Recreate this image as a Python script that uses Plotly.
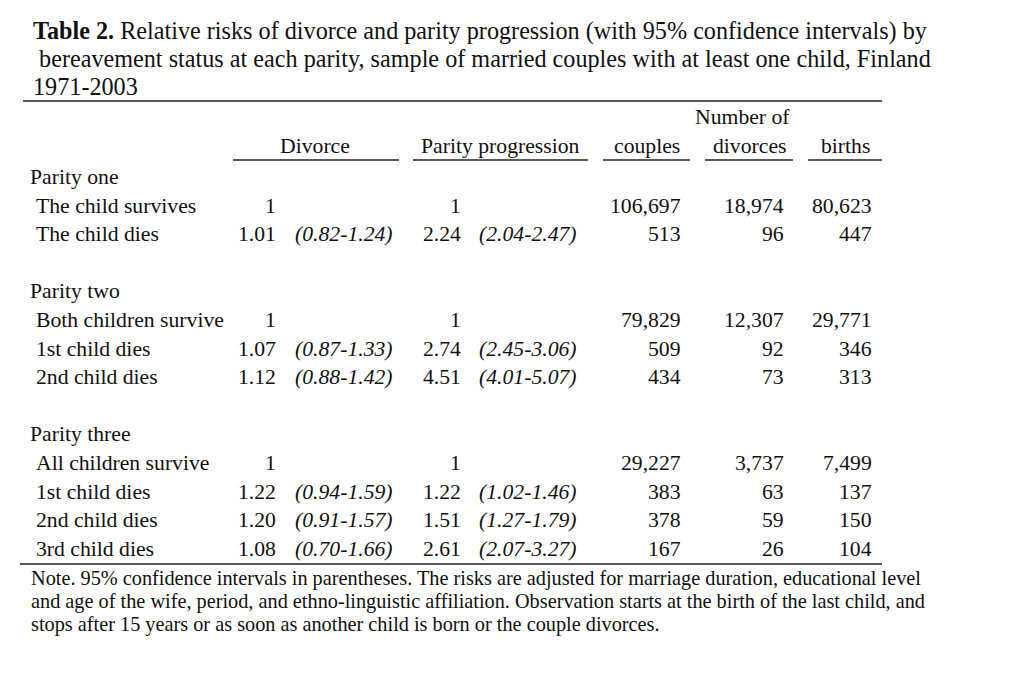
import plotly.graph_objects as go

# ---------------- data ----------------
title_lines = [
    "<b>Table 2.</b> Relative risks of divorce and parity progression (with 95% confidence intervals) by",
    " bereavement status at each parity, sample of married couples with at least one child, Finland",
    "1971-2003",
]
col_headers = ["Divorce", "Parity progression", "couples", "divorces", "births"]
super_header = "Number of"

groups = ["Parity one", "Parity two", "Parity three"]
statuses = [
    ["The child survives", "The child dies"],
    ["Both children survive", "1st child dies", "2nd child dies"],
    ["All children survive", "1st child dies", "2nd child dies", "3rd child dies"],
]
divorce_rr = ["1", "1.01", "1", "1.07", "1.12", "1", "1.22", "1.20", "1.08"]
divorce_ci = ["", "(0.82-1.24)", "", "(0.87-1.33)", "(0.88-1.42)", "", "(0.94-1.59)", "(0.91-1.57)", "(0.70-1.66)"]
parity_rr = ["1", "2.24", "1", "2.74", "4.51", "1", "1.22", "1.51", "2.61"]
parity_ci = ["", "(2.04-2.47)", "", "(2.45-3.06)", "(4.01-5.07)", "", "(1.02-1.46)", "(1.27-1.79)", "(2.07-3.27)"]
couples = [106697, 513, 79829, 509, 434, 29227, 383, 378, 167]
divorces = [18974, 96, 12307, 92, 73, 3737, 63, 59, 26]
births = [80623, 447, 29771, 346, 313, 7499, 137, 150, 104]

note_lines = [
    "Note. 95% confidence intervals in parentheses. The risks are adjusted for marriage duration, educational level",
    "and age of the wife, period, and ethno-linguistic affiliation. Observation starts at the birth of the last child, and",
    "stops after 15 years or as soon as another child is born or the couple divorces.",
]

# ---------------- layout ----------------
FONT = "Liberation Serif, Times New Roman, serif"
INK = "#111111"
FS = 21.7
TITLE_FS = 24.2
NOTE_FS = 20.3
OFF = 8  # page body margin

fig = go.Figure()
ann = []
shapes = []


def text(x, y, s, anchor="left", size=FS, italic=False):
    ann.append(dict(x=x, y=y, xref="x", yref="y", text=(f"<i>{s}</i>" if italic else s),
                    showarrow=False, xanchor=anchor, yanchor="middle",
                    font=dict(family=FONT, size=size, color=INK)))


def hline(x0, x1, y, w=1.4):
    shapes.append(dict(type="line", xref="x", yref="y", x0=x0, x1=x1, y0=y, y1=y,
                       line=dict(color="#222222", width=w)))


# title
for i, t in enumerate(title_lines):
    text(31, 31 + 27.7 * i, t, size=TITLE_FS)

hline(23, 882, 101)

# headers
text(742, 117, super_header, anchor="center")
hdr_cx = [315, 500, 647, 749, 845]
ul = [(233, 399), (413, 588), (603, 690), (705, 793), (808, 882)]
for h, cx, (a, b) in zip(col_headers, hdr_cx, ul):
    text(cx, 146, h, anchor="center")
    hline(a, b, 160)

# body
y0, dy = 177, 28.6
k = 0
r = 0
for g, sts in zip(groups, statuses):
    text(28, y0 + dy * k, g)
    k += 1
    for s in sts:
        y = y0 + dy * k
        text(34, y, s)
        text(278, y, divorce_rr[r], anchor="right")
        if divorce_ci[r]:
            text(293, y, divorce_ci[r], italic=True)
        text(463, y, parity_rr[r], anchor="right")
        if parity_ci[r]:
            text(477, y, parity_ci[r], italic=True)
        text(683, y, f"{couples[r]:,}", anchor="right")
        text(786, y, f"{divorces[r]:,}", anchor="right")
        text(874, y, f"{births[r]:,}", anchor="right")
        k += 1
        r += 1
    k += 1

hline(20, 882, 564)

for i, t in enumerate(note_lines):
    text(29, 578 + 23 * i, t, size=NOTE_FS)

fig.update_layout(
    width=1024, height=675,
    margin=dict(l=0, r=0, t=0, b=0),
    paper_bgcolor="white", plot_bgcolor="white",
    xaxis=dict(range=[OFF, 1024 + OFF], visible=False, fixedrange=True),
    yaxis=dict(range=[675 + OFF, OFF], visible=False, fixedrange=True),
    annotations=ann, shapes=shapes, showlegend=False,
)
fig.write_html("out.html")
